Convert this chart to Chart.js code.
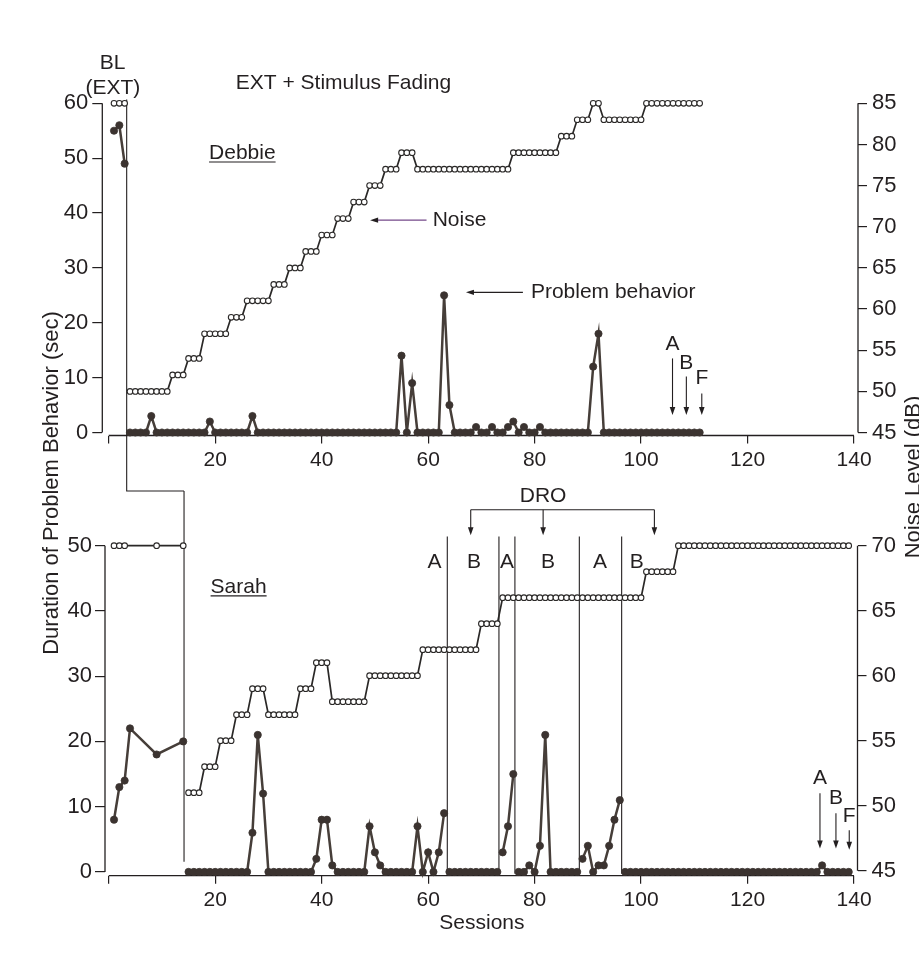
<!DOCTYPE html>
<html>
<head>
<meta charset="utf-8">
<script src="https://cdn.jsdelivr.net/npm/chart.js@4.4.1/dist/chart.umd.min.js"></script>
<style>
html,body{margin:0;padding:0;background:#fff;}
#wrap{position:relative;width:919px;height:954px;overflow:hidden;}
canvas{position:absolute;left:0;top:0;}
</style>
</head>
<body>
<div id="wrap">
<canvas id="c1" width="919" height="954"></canvas>
<canvas id="c2" width="919" height="954"></canvas>
</div>
<script>
// ---------------- DATA ----------------
const xTickValues = [0, 20, 40, 60, 80, 100, 120, 140];
const debbieDurTicks = [0, 10, 20, 30, 40, 50, 60];
const debbieNoiseTicks = [45, 50, 55, 60, 65, 70, 75, 80, 85];
const sarahDurTicks = [0, 10, 20, 30, 40, 50];
const sarahNoiseTicks = [45, 50, 55, 60, 65, 70];

// Debbie – baseline (EXT)
const debbieBLSessions = [1, 2, 3];
const debbieBLNoise = [85, 85, 85];
const debbieBLBehavior = [55, 56, 49];
// Debbie – EXT + stimulus fading, sessions 4..111
const debbieTxStart = 4;
const debbieTxNoise = [
  50,50,50,50,50,50,50,50, 52,52,52, 54,54,54, 57,57,57,57,57, 59,59,59,
  61,61,61,61,61, 63,63,63, 65,65,65, 67,67,67, 69,69,69, 71,71,71,
  73,73,73, 75,75,75, 77,77,77, 79,79,79,
  77,77,77,77,77,77,77,77,77,77,77,77,77,77,77,77,77,77,
  79,79,79,79,79,79,79,79,79, 81,81,81, 83,83,83, 85,85,
  83,83,83,83,83,83,83,83, 85,85,85,85,85,85,85,85,85,85,85
];
const debbieTxBehavior = [
  0,0,0,0,3,0,0,0,0,0,
  0,0,0,0,0,2,0,0,0,0,
  0,0,0,3,0,0,0,0,0,0,
  0,0,0,0,0,0,0,0,0,0,
  0,0,0,0,0,0,0,0,0,0,
  0,14,0,9,0,0,0,0,0,25,
  5,0,0,0,0,1,0,0,1,0,
  0,1,2,0,1,0,0,1,0,0,
  0,0,0,0,0,0,0,12,18,0,
  0,0,0,0,0,0,0,0,0,0,
  0,0,0,0,0,0,0,0
];

// Sarah – baseline (EXT)
const sarahBLNoiseSessions = [1, 2, 3, 9, 14];
const sarahBLNoise = [70, 70, 70, 70, 70];
const sarahBLBehaviorSessions = [1, 2, 3, 4, 9, 14];
const sarahBLBehavior = [8, 13, 14, 22, 18, 20];
// Sarah – treatment, sessions 15..139
const sarahTxStart = 15;
const sarahTxNoise = [
  51,51,51, 53,53,53, 55,55,55, 57,57,57, 59,59,59, 57,57,57,57,57,57,
  59,59,59, 61,61,61, 58,58,58,58,58,58,58, 60,60,60,60,60,60,60,60,60,60,
  62,62,62,62,62,62,62,62,62,62,62, 64,64,64,64,
  66,66,66,66,66,66,66,66,66,66,66,66,66,66,66,66,66,66,66,66,66,66,66,66,66,66,66,
  68,68,68,68,68,68,
  70,70,70,70,70,70,70,70,70,70,70,70,70,70,70,70,70,70,70,70,70,70,70,70,70,70,70,70,70,70,70,70,70
];
const sarahTxBehavior = [
  0,0,0,0,0,0,0,0,0,0,
  0,0,6,21,12,0,0,0,0,0,
  0,0,0,0,2,8,8,1,0,0,
  0,0,0,0,7,3,1,0,0,0,
  0,0,0,7,0,3,0,3,9,0,
  0,0,0,0,0,0,0,0,0,3,
  7,15,0,0,1,0,4,21,0,0,
  0,0,0,0,2,4,0,1,1,4,
  8,11,0,0,0,0,0,0,0,0,
  0,0,0,0,0,0,0,0,0,0,
  0,0,0,0,0,0,0,0,0,0,
  0,0,0,0,0,0,0,0,0,1,
  0,0,0,0,0
];
// phase-change lines (session positions)
const debbiePhaseChange = 3.38;
const sarahBLPhaseChange = 14.15;
const sarahPhaseChanges = [63.6, 73.3, 76.3, 88.4, 96.35];
const sarahPhaseLabels = ['A', 'B', 'A', 'B', 'A', 'B'];

// ---------------- STYLE ----------------
const FONT = "'Liberation Sans', Arial, Helvetica, sans-serif";
const INK = '#231f20';
const PB_LINE = '#463e39';
const PB_DOT = '#3b3330';
const NOISE = '#2a2827';
Chart.defaults.color = INK;
Chart.defaults.font.family = FONT;

function seq(start, values) { return values.map((v, i) => ({ x: start + i, y: v })); }
function pairs(xs, ys) { return xs.map((x, i) => ({ x: x, y: ys[i] })); }
function splitAt(points, breaks) {
  const segs = [];
  let cur = [];
  let b = 0;
  points.forEach(p => {
    while (b < breaks.length && p.x > breaks[b]) { if (cur.length) segs.push(cur); cur = []; b++; }
    cur.push(p);
  });
  if (cur.length) segs.push(cur);
  return segs;
}
const noiseStyle = {
  xAxisID: 'x', yAxisID: 'yR', borderColor: NOISE, borderWidth: 1.7,
  pointRadius: 2.8, pointBorderWidth: 1.1, pointBackgroundColor: '#fff',
  pointBorderColor: NOISE, tension: 0, clip: false, order: 2
};
const pbStyle = {
  xAxisID: 'x', yAxisID: 'yL', borderColor: PB_LINE, borderWidth: 2.5,
  pointRadius: 3.6, pointBorderWidth: 0.8, pointBackgroundColor: PB_DOT,
  pointBorderColor: PB_DOT, tension: 0, clip: false, order: 1
};
function fixedTicks(values) { return s => { s.ticks = values.map(v => ({ value: v })); }; }
function xAxis(min, max, height) {
  return {
    type: 'linear', position: 'bottom', min: min, max: max, bounds: 'data',
    afterBuildTicks: fixedTicks(xTickValues),
    afterFit: s => { s.height = height; },
    ticks: { font: { family: FONT, size: 21 }, color: INK, padding: 4, maxRotation: 0, autoSkip: false,
             callback: v => (v === 0 ? '' : String(v)) },
    grid: { display: true, drawOnChartArea: false, drawTicks: true, tickLength: 8, color: INK, lineWidth: 1.2 },
    border: { display: false }
  };
}
function yAxis(pos, min, max, ticks, width, tl, pad) {
  return {
    type: 'linear', position: pos, min: min, max: max, bounds: 'data',
    afterBuildTicks: fixedTicks(ticks),
    afterFit: s => { s.width = width; },
    ticks: { font: { family: FONT, size: 22 }, color: INK, padding: pad, autoSkip: false },
    grid: { display: true, drawOnChartArea: false, drawTicks: true, tickLength: tl, color: INK, lineWidth: 1.2 },
    border: { display: false }
  };
}

// ---------------- DRAW HELPERS ----------------
function seg(ctx, x1, y1, x2, y2) { ctx.beginPath(); ctx.moveTo(x1, y1); ctx.lineTo(x2, y2); ctx.stroke(); }
function txt(ctx, s, x, y, size, align) {
  ctx.font = size + 'px ' + FONT; ctx.fillStyle = INK;
  ctx.textAlign = align || 'center'; ctx.textBaseline = 'middle';
  ctx.fillText(s, x, y);
}
function arrowDown(ctx, x, yTop, yTip) {
  ctx.strokeStyle = INK; ctx.fillStyle = INK; ctx.lineWidth = 1.1;
  seg(ctx, x, yTop, x, yTip - 6);
  ctx.beginPath(); ctx.moveTo(x, yTip); ctx.lineTo(x - 2.8, yTip - 8); ctx.lineTo(x + 2.8, yTip - 8); ctx.closePath(); ctx.fill();
}
function arrowLeft(ctx, xStart, xTip, y, color) {
  ctx.strokeStyle = color; ctx.fillStyle = INK; ctx.lineWidth = 1.2;
  seg(ctx, xStart, y, xTip + 6, y);
  ctx.beginPath(); ctx.moveTo(xTip, y); ctx.lineTo(xTip + 8, y - 2.6); ctx.lineTo(xTip + 8, y + 2.6); ctx.closePath(); ctx.fill();
}
function underlined(ctx, s, x, y, yLine, size) {
  txt(ctx, s, x, y, size);
  const w = ctx.measureText(s).width;
  ctx.strokeStyle = INK; ctx.lineWidth = 1.2;
  seg(ctx, x - w / 2, yLine, x + w / 2, yLine);
}

// ---------------- PLUGINS ----------------
const debbieAnnot = {
  id: 'debbieAnnot',
  beforeDatasetsDraw(chart) {
    const { ctx, chartArea: a, scales } = chart;
    const X = v => scales.x.getPixelForValue(v), Y = v => scales.yL.getPixelForValue(v), R = v => scales.yR.getPixelForValue(v);
    ctx.save();
    ctx.strokeStyle = INK; ctx.lineWidth = 1.3;
    seg(ctx, a.left, Y(60), a.left, Y(0));
    seg(ctx, a.right, R(85), a.right, R(45));
    seg(ctx, X(0), a.bottom, X(140), a.bottom);
    // baseline phase-change connector
    ctx.lineWidth = 1.1;
    ctx.beginPath();
    ctx.moveTo(X(debbiePhaseChange), Y(60.7));
    ctx.lineTo(X(debbiePhaseChange), Y(-10.66));
    ctx.lineTo(X(sarahBLPhaseChange), Y(-10.66));
    ctx.stroke();
    ctx.restore();
  },
  afterDatasetsDraw(chart) {
    const { ctx, scales } = chart;
    const X = v => scales.x.getPixelForValue(v), Y = v => scales.yL.getPixelForValue(v);
    ctx.save();
    txt(ctx, 'BL', X(0.71), Y(67.3), 21);
    txt(ctx, '(EXT)', X(0.8), Y(62.7), 21);
    txt(ctx, 'EXT + Stimulus Fading', X(44.1), Y(63.6), 21);
    underlined(ctx, 'Debbie', X(25.1), Y(50.9), Y(49.3), 21);
    txt(ctx, 'Noise', X(60.85), Y(38.7), 21, 'left');
    arrowLeft(ctx, X(59.7), X(49.1), Y(38.7), '#74488a');
    txt(ctx, 'Problem behavior', X(79.3), Y(25.55), 21, 'left');
    arrowLeft(ctx, X(77.8), X(67.1), Y(25.55), INK);
    txt(ctx, 'A', X(105.9), Y(16.07), 21);
    arrowDown(ctx, X(105.9), Y(13.5), Y(3.2));
    txt(ctx, 'B', X(108.5), Y(12.7), 21);
    arrowDown(ctx, X(108.5), Y(10.2), Y(3.2));
    txt(ctx, 'F', X(111.4), Y(9.9), 21);
    arrowDown(ctx, X(111.4), Y(7.1), Y(3.2));
    ctx.restore();
  }
};

const sarahAnnot = {
  id: 'sarahAnnot',
  beforeDatasetsDraw(chart) {
    const { ctx, chartArea: a, scales } = chart;
    const X = v => scales.x.getPixelForValue(v), Y = v => scales.yL.getPixelForValue(v), R = v => scales.yR.getPixelForValue(v);
    ctx.save();
    ctx.strokeStyle = INK; ctx.lineWidth = 1.3;
    seg(ctx, a.left, Y(50), a.left, Y(0));
    seg(ctx, a.right, R(70), a.right, R(45));
    seg(ctx, X(0), a.bottom, X(140), a.bottom);
    ctx.lineWidth = 1.1;
    seg(ctx, X(sarahBLPhaseChange), Y(58.38), X(sarahBLPhaseChange), Y(1.56));
    sarahPhaseChanges.forEach(s => seg(ctx, X(s), Y(51.4), X(s), Y(-0.3)));
    ctx.restore();
  },
  afterDatasetsDraw(chart) {
    const { ctx, chartArea: a, scales } = chart;
    const X = v => scales.x.getPixelForValue(v), Y = v => scales.yL.getPixelForValue(v);
    ctx.save();
    underlined(ctx, 'Sarah', X(24.4), Y(43.7), Y(42.3), 21);
    // DRO bracket
    txt(ctx, 'DRO', X(81.6), Y(57.6), 21);
    ctx.strokeStyle = INK; ctx.lineWidth = 1.1;
    seg(ctx, X(68), Y(55.5), X(102.5), Y(55.5));
    [68, 81.6, 102.5].forEach(s => arrowDown(ctx, X(s), Y(55.5), Y(51.6)));
    // phase labels
    const labelX = [61.2, 68.6, 74.8, 82.5, 92.3, 99.2];
    sarahPhaseLabels.forEach((l, i) => txt(ctx, l, X(labelX[i]), Y(47.5), 21));
    // A B F arrows
    txt(ctx, 'A', X(133.6), Y(14.35), 21);
    arrowDown(ctx, X(133.6), Y(12.05), Y(3.6));
    txt(ctx, 'B', X(136.6), Y(11.3), 21);
    arrowDown(ctx, X(136.6), Y(9.0), Y(3.6));
    txt(ctx, 'F', X(139.1), Y(8.6), 21);
    arrowDown(ctx, X(139.1), Y(6.4), Y(3.4));
    // axis titles
    txt(ctx, 'Sessions', X(70.1), a.bottom + 47.5, 21);
    ctx.save(); ctx.translate(52, 483); ctx.rotate(-Math.PI / 2);
    txt(ctx, 'Duration of Problem Behavior (sec)', 0, 0, 22); ctx.restore();
    ctx.save(); ctx.translate(914, 477); ctx.rotate(-Math.PI / 2);
    txt(ctx, 'Noise Level (dB)', 0, 0, 22); ctx.restore();
    ctx.restore();
  }
};

// ---------------- CHARTS ----------------
const commonOpts = {
  responsive: false, animation: false, events: [],
  plugins: { legend: { display: false }, tooltip: { enabled: false } }
};

const chart1 = new Chart(document.getElementById('c1'), {
  type: 'line',
  data: {
    datasets: [
      Object.assign({ label: 'Noise (BL)', data: pairs(debbieBLSessions, debbieBLNoise) }, noiseStyle),
      Object.assign({ label: 'Noise', data: seq(debbieTxStart, debbieTxNoise) }, noiseStyle),
      Object.assign({ label: 'Problem behavior (BL)', data: pairs(debbieBLSessions, debbieBLBehavior) }, pbStyle),
      Object.assign({ label: 'Problem behavior', data: seq(debbieTxStart, debbieTxBehavior) }, pbStyle)
    ]
  },
  options: Object.assign({}, commonOpts, {
    layout: { padding: { top: 103.3, bottom: 954 - 435.5 - 40, left: 0, right: 0 } },
    scales: {
      x: xAxis(-1.2, 140.74, 40),
      yL: yAxis('left', -0.55, 60, debbieDurTicks, 102.3, 10, 4),
      yR: yAxis('right', 44.64, 85, debbieNoiseTicks, 61, 9, 5)
    }
  }),
  plugins: [debbieAnnot]
});

const sarahPBSegments = [pairs(sarahBLBehaviorSessions, sarahBLBehavior)].concat(
  splitAt(seq(sarahTxStart, sarahTxBehavior), sarahPhaseChanges));

const chart2 = new Chart(document.getElementById('c2'), {
  type: 'line',
  data: {
    datasets: [
      Object.assign({ label: 'Noise (BL)', data: pairs(sarahBLNoiseSessions, sarahBLNoise) }, noiseStyle),
      Object.assign({ label: 'Noise', data: seq(sarahTxStart, sarahTxNoise) }, noiseStyle)
    ].concat(sarahPBSegments.map((d, i) => Object.assign({ label: 'Problem behavior ' + i, data: d }, pbStyle)))
  },
  options: Object.assign({}, commonOpts, {
    layout: { padding: { top: 545.7, bottom: 954 - 875.7 - 45, left: 0, right: 0 } },
    scales: {
      x: xAxis(-0.695, 140.65, 45),
      yL: yAxis('left', -0.58, 50, sarahDurTicks, 105, 10, 3),
      yR: yAxis('right', 44.616, 70, sarahNoiseTicks, 61.5, 9, 5)
    }
  }),
  plugins: [sarahAnnot]
});
</script>
</body>
</html>
